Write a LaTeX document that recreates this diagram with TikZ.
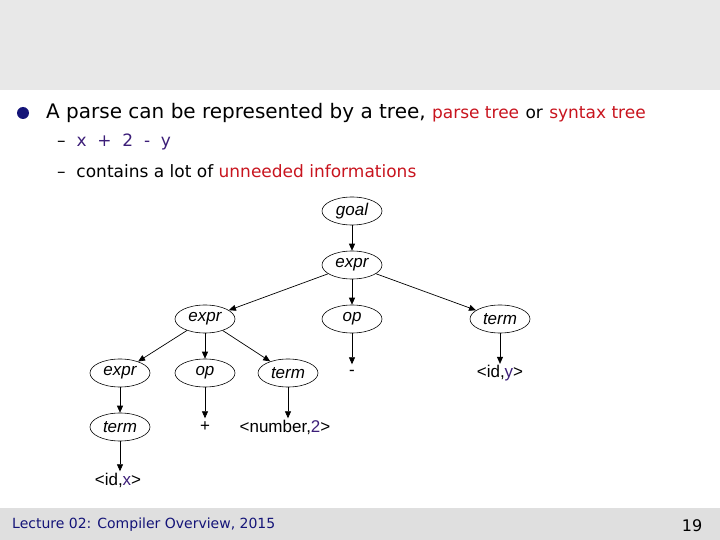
\documentclass[tikz,border=0pt]{standalone}
\usepackage{fontspec}
\setmainfont{DejaVu Sans}
\newfontfamily\arial{Liberation Sans}
\usetikzlibrary{shapes.geometric,arrows.meta}
\definecolor{hred}{RGB}{200,20,30}
\definecolor{hblue}{RGB}{60,30,120}
\definecolor{navy}{RGB}{20,20,120}
\begin{document}
\begin{tikzpicture}[x=1pt,y=-1pt,
  nd/.style={ellipse,draw,line width=0.6pt,minimum width=60pt,minimum height=28pt,inner sep=0pt,font=\arial\itshape\fontsize{17}{17}\selectfont},
  lf/.style={inner sep=1pt,minimum height=17pt,font=\arial\fontsize{17}{17}\selectfont},
  ar/.style={-{Triangle[length=7pt,width=6pt]},line width=0.7pt}]
\useasboundingbox (0,0) rectangle (720,540);
\fill[gray!18] (0,0) rectangle (720,90);
\fill[gray!25] (0,508) rectangle (720,540);
\fill[navy] (23,113) circle (6);
\node[anchor=west,inner sep=0,font=\fontsize{20}{20}\selectfont] (l1) at (46,113) {A parse can be represented by a tree, {\color{hred}\fontsize{17}{17}\selectfont parse tree} {\fontsize{17}{17}\selectfont or} {\color{hred}\fontsize{17}{17}\selectfont syntax tree}};
\node[anchor=west,inner sep=0,font=\fontsize{17}{17}\selectfont] (l2) at (57,142) {–\ \ {\color{hblue}x\ \ +\ \ 2\ \ -\ \ y}};
\node[anchor=west,inner sep=0,font=\fontsize{17}{17}\selectfont] (l3) at (57,171) {–\ \ contains a lot of {\color{hred}unneeded informations}};
\node[nd] (goal) at (352,211) {goal};
\node[nd] (e1) at (352,265) {expr};
\node[nd] (e2) at (205,319) {expr};
\node[nd] (o1) at (352,319) {op};
\node[nd] (t1) at (500,319) {term};
\node[nd] (e3) at (120,373) {expr};
\node[nd] (o2) at (205,373) {op};
\node[nd] (t2) at (288,373) {term};
\node[lf] (mi) at (352,373) {-};
\node[lf] (idy) at (500,373) {<id,{\color{hblue}y}>};
\node[nd] (t3) at (120,427) {term};
\node[lf] (pl) at (205,427) {+};
\node[lf] (num) at (285,427) {<number,{\color{hblue}2}>};
\node[lf] (idx) at (118,480) {<id,{\color{hblue}x}>};
\draw[ar] (goal) -- (e1);
\draw[ar] (e1) -- (e2);
\draw[ar] (e1) -- (o1);
\draw[ar] (e1) -- (t1);
\draw[ar] (e2) -- (e3);
\draw[ar] (e2) -- (o2);
\draw[ar] (e2) -- (t2);
\draw[ar] (o1) -- (mi.north);
\draw[ar] (t1) -- (idy.north);
\draw[ar] (e3) -- (t3);
\draw[ar] (o2) -- (pl.north);
\draw[ar] (t2.south) -- (t2.south |- num.north);
\draw[ar] (t3) -- (t3.south |- idx.north);
\node[anchor=west,inner sep=0,font=\fontsize{14}{14}\selectfont,text=navy] (ft) at (12,525) {Lecture 02: Compiler Overview, 2015};
\node[inner sep=0,font=\fontsize{16}{16}\selectfont] (pg) at (692,526) {19};
\end{tikzpicture}
\end{document}
